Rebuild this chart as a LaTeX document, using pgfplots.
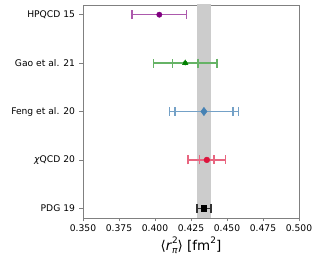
\documentclass[border=0pt]{standalone}
\usepackage{fontspec}
\setmainfont{DejaVu Sans}
\usepackage{pgfplots}
\pgfplotsset{compat=1.18}
\definecolor{cpurple}{HTML}{800080}
\definecolor{cgreen}{HTML}{008000}
\definecolor{csteel}{HTML}{4682B4}
\definecolor{ccrimson}{HTML}{DC143C}
\definecolor{band}{HTML}{CCCCCC}
\definecolor{spine}{HTML}{808080}
\pgfplotsset{
  eb/.style={error bars/.cd, x dir=both, x explicit,
    error bar style={line width=1.5pt, color=#1},
    error mark options={rotate=90, mark size=4.5bp, line width=1.5pt, color=#1}},
}
\begin{document}
\begin{tikzpicture}
\begin{axis}[
  name=ax,
  scale only axis,
  width=216bp, height=213bp,
  xmin=0.350, xmax=0.500,
  ymin=-0.2, ymax=4.2,
  xtick={0.350,0.375,0.400,0.425,0.450,0.475,0.500},
  ytick={0,1,2,3,4},
  yticklabels={PDG 19,\textit{χ}QCD 20,Feng et al. 20,Gao et al. 21,HPQCD 15},
  /pgf/number format/assume math mode=true,
  xticklabel style={/pgf/number format/.cd,fixed,fixed zerofill,precision=3},
  tick label style={font=\fontsize{9.2}{10}\selectfont},
  tick align=outside,
  tick pos=left,
  major tick length=3.5bp,
  axis line style={spine, line width=0.9pt},
  every tick/.style={spine, line width=0.7pt},
  xlabel={⟨\textit{r}\rlap{\raisebox{0.9ex}{\fontsize{9}{10}\selectfont 2}}\raisebox{-0.45ex}{\fontsize{9}{10}\selectfont\textit{π}}⟩ [fm\raisebox{0.9ex}{\fontsize{9}{10}\selectfont 2}]},
  xlabel style={font=\fontsize{13.5}{15}\selectfont, yshift=2bp},
  yticklabel style={xshift=-1bp},
]
% PDG band
\addplot[fill=band, draw=none, forget plot] coordinates {(0.429,-1) (0.439,-1) (0.439,5) (0.429,5)} -- cycle;

% HPQCD 15
\addplot[only marks, mark=*, mark size=2.7bp, color=cpurple, eb=cpurple!65!white]
  coordinates {(0.403,4) -= (0.019,0) += (0.019,0)};

% Gao et al. 21 (outer and inner)
\addplot[only marks, mark=none, color=cgreen, eb=cgreen!60!white]
  coordinates {(0.421,3) -= (0.022,0) += (0.022,0)};
\addplot[only marks, mark=triangle*, mark size=3.2bp, color=cgreen, eb=cgreen!60!white]
  coordinates {(0.421,3) -= (0.009,0) += (0.009,0)};

% Feng et al. 20
\addplot[only marks, mark=none, color=csteel, eb=csteel!75!white]
  coordinates {(0.434,2) -= (0.024,0) += (0.024,0)};
\addplot[only marks, mark=diamond*, mark size=4.2bp, color=csteel, eb=csteel!75!white]
  coordinates {(0.434,2) -= (0.020,0) += (0.020,0)};

% chiQCD 20
\addplot[only marks, mark=none, color=ccrimson, eb=ccrimson!65!white]
  coordinates {(0.436,1) -= (0.013,0) += (0.013,0)};
\addplot[only marks, mark=*, mark size=2.9bp, color=ccrimson, eb=ccrimson!65!white]
  coordinates {(0.436,1) -= (0.005,0) += (0.005,0)};

% PDG 19
\addplot[only marks, mark=square*, mark size=2.7bp, color=black, eb=black!80!white]
  coordinates {(0.434,0) -= (0.005,0) += (0.005,0)};
\end{axis}
\path ([xshift=-83bp,yshift=-48bp]ax.south west) rectangle ([xshift=33bp,yshift=5bp]ax.north east);
\end{tikzpicture}
\end{document}
